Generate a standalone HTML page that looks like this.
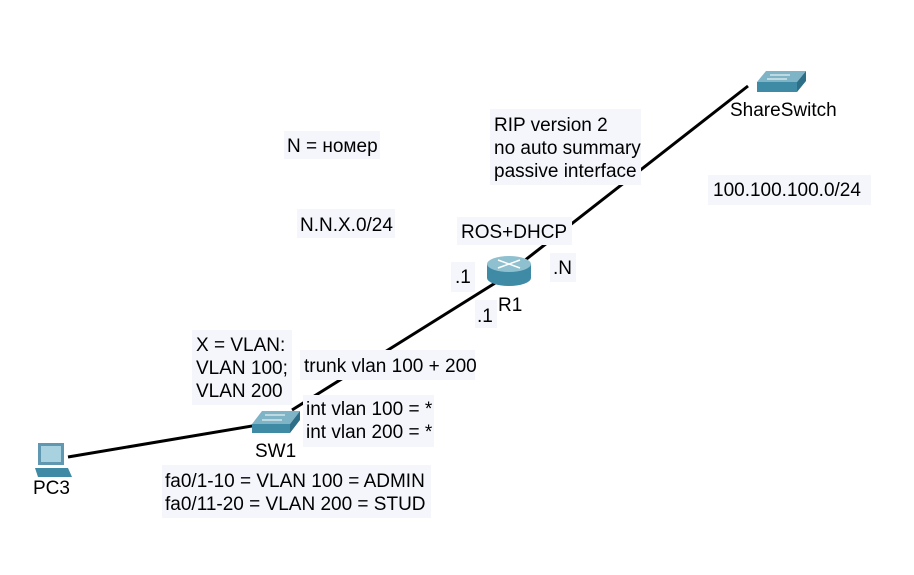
<!DOCTYPE html>
<html><head><meta charset="utf-8"><style>
html,body{margin:0;padding:0;background:#fff;}
svg text{font-family:"Liberation Sans",Arial,sans-serif;font-size:19px;fill:#000;}
</style></head><body>
<svg width="914" height="570" viewBox="0 0 914 570" xmlns="http://www.w3.org/2000/svg">
<rect width="914" height="570" fill="#fff"/>
<g stroke="#000" stroke-width="3" fill="none">
<line x1="68" y1="457" x2="258" y2="425"/>
<line x1="292" y1="410" x2="500" y2="280"/>
<line x1="515" y1="268" x2="748" y2="86"/>
</g>
<g fill="#f4f6fb">
<rect x="284" y="131" width="96" height="28"/>
<rect x="297" y="209" width="98" height="29"/>
<rect x="490" y="109" width="151" height="76"/>
<rect x="457" y="217" width="115" height="28"/>
<rect x="451" y="262" width="24" height="30"/>
<rect x="550" y="253" width="26" height="29"/>
<rect x="475" y="300" width="22" height="28"/>
<rect x="708" y="175" width="163" height="30"/>
<rect x="192" y="330" width="100" height="75"/>
<rect x="300" y="350" width="175" height="30"/>
<rect x="303" y="395" width="131" height="52"/>
<rect x="162" y="465" width="269" height="53"/>
</g>
<polygon points="252,424 262,411 300,411 290,424" fill="#7fb3c6"/>
<polygon points="252,424 290,424 290,433 252,433" fill="#3f8aa5"/>
<polygon points="290,424 300,411 300,420 290,433" fill="#2d6f87"/>
<g stroke="#fff" stroke-width="1"><line x1="265" y1="415" x2="285" y2="415"/><line x1="262" y1="420" x2="282" y2="420"/></g>
<polygon points="757,82 766,71 806,71 797,82" fill="#7fb3c6"/>
<polygon points="757,82 797,82 797,92 757,92" fill="#3f8aa5"/>
<polygon points="797,82 806,71 806,81 797,92" fill="#2d6f87"/>
<g stroke="#fff" stroke-width="1"><line x1="770" y1="75" x2="790" y2="75"/><line x1="767" y1="79" x2="787" y2="79"/></g>
<rect x="487" y="264" width="44" height="14" fill="#3f8aa5"/>
<ellipse cx="509" cy="278" rx="22" ry="8" fill="#3f8aa5"/>
<ellipse cx="509" cy="264" rx="22" ry="8" fill="#8fc0d0"/>
<g stroke="#fff" stroke-width="1.5"><line x1="498" y1="260" x2="520" y2="268"/><line x1="498" y1="268" x2="520" y2="260"/></g>
<rect x="38" y="443" width="26" height="22" fill="#5f98b0"/>
<rect x="41" y="446" width="20" height="16" fill="#a9d2e0"/>
<polygon points="35,468 68,468 72,477 38,477" fill="#3f8aa5"/>
<text x="287" y="152">N = номер</text>
<text x="300" y="231">N.N.X.0/24</text>
<text x="494" y="131">RIP version 2</text>
<text x="494" y="154">no auto summary</text>
<text x="494" y="177">passive interface</text>
<text x="461" y="238">ROS+DHCP</text>
<text x="455" y="283">.1</text>
<text x="553" y="274">.N</text>
<text x="477" y="322">.1</text>
<text x="498" y="311">R1</text>
<text x="730" y="116">ShareSwitch</text>
<text x="713" y="196">100.100.100.0/24</text>
<text x="196" y="351">X = VLAN:</text>
<text x="196" y="374">VLAN 100;</text>
<text x="196" y="397">VLAN 200</text>
<text x="304" y="372">trunk vlan 100 + 200</text>
<text x="306" y="415">int vlan 100 = *</text>
<text x="306" y="438">int vlan 200 = *</text>
<text x="255" y="457">SW1</text>
<text x="33" y="494">PC3</text>
<text x="165" y="487">fa0/1-10 = VLAN 100 = ADMIN</text>
<text x="165" y="510">fa0/11-20 = VLAN 200 = STUD</text>
</svg>
</body></html>
